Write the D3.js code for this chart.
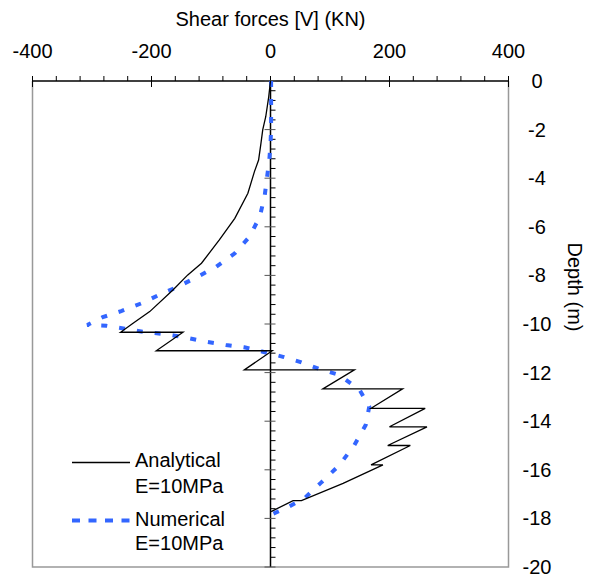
<!DOCTYPE html>
<html><head><meta charset="utf-8">
<script src="https://cdn.jsdelivr.net/npm/d3@7"></script>
<style>body{margin:0;background:#fff}svg{display:block;font-family:"Liberation Sans",Arial,sans-serif}</style>
</head><body>
<svg id="c" width="592" height="577"></svg>
<script>
// Analytical E=10MPa : shear force (kN), depth (m)
const analyticalV = [0,-3,-8,-13,-16,-20,-27,-38,-60,-86,-116,-139,-164,-203,-231,-252,-147,-192,3,-44,141,88,222,169,260,200,263,197,235,169,189,122,52,38,1];
const analyticalD = [0,-0.65,-1.47,-2.0,-2.56,-3.25,-3.73,-4.62,-5.65,-6.54,-7.5,-7.98,-8.6,-9.49,-9.97,-10.34,-10.34,-11.1,-11.1,-11.89,-11.89,-12.67,-12.67,-13.47,-13.47,-14.23,-14.23,-15.0,-15.0,-15.8,-15.8,-16.56,-17.27,-17.27,-17.72];
// Numerical E=10MPa
const numericalV = [1,1,1,0,-2,-6,-10,-18,-35,-60,-91,-122,-156,-187,-217,-251,-282,-308,-276,-245,-215,-181,-161,-142,-108,-75,-44,-13,21,52,82,116,150,166,160,141,116,85,57,26,5];
const numericalD = [0,-1,-2,-2.6,-3.25,-4.0,-4.76,-5.58,-6.4,-7.09,-7.64,-8.05,-8.47,-8.8,-9.15,-9.47,-9.72,-10.04,-10.07,-10.19,-10.32,-10.41,-10.48,-10.56,-10.73,-10.86,-10.96,-11.14,-11.35,-11.58,-11.85,-12.1,-12.72,-13.4,-14.16,-14.98,-15.8,-16.53,-17.17,-17.58,-17.8];
const xTicks = [-400,-200,0,200,400];
const yTicks = [0,-2,-4,-6,-8,-10,-12,-14,-16,-18,-20];
const seriesNames = ["Analytical", "Numerical"];
const legendSub = "E=10MPa";

const svg = d3.select("#c");
const x = d3.scaleLinear().domain([-400,400]).range([32.5,508.5]);
const y = d3.scaleLinear().domain([0,-20]).range([81,567]);
const font = 20;

// frame (gray)
svg.append("path").attr("d",`M${x(-400)},${y(0)}V${y(-20)}H${x(400)}V${y(0)}`)
  .attr("fill","none").attr("stroke","#999").attr("stroke-width",1.5);

// top x axis
const gx = svg.append("g");
gx.append("line").attr("x1",x(-400)).attr("x2",x(400)).attr("y1",y(0)).attr("y2",y(0)).attr("stroke","#000").attr("stroke-width",1.5);
const minorX = d3.range(-400,401,40);
gx.selectAll(".mx").data(minorX).enter().append("line")
  .attr("x1",d=>x(d)).attr("x2",d=>x(d))
  .attr("y1",y(0)-5)
  .attr("y2",d=>xTicks.includes(d)?y(0)+6:y(0))
  .attr("stroke","#000").attr("stroke-width",1);
gx.selectAll(".lx").data(xTicks).enter().append("text")
  .attr("x",d=>x(d)).attr("y",58).attr("text-anchor","middle").attr("font-size",font).text(d=>d);
svg.append("text").attr("x",x(0)).attr("y",26).attr("text-anchor","middle").attr("font-size",font).text("Shear forces [V] (KN)");

// vertical axis at x=0
const gy = svg.append("g");
gy.append("line").attr("x1",x(0)).attr("x2",x(0)).attr("y1",y(0)).attr("y2",y(-20)).attr("stroke","#000").attr("stroke-width",1.5);
const minorY = d3.range(0,-20.01,-0.4).map(v=>+v.toFixed(1));
gy.selectAll(".my").data(minorY).enter().append("line")
  .attr("x1",d=>yTicks.includes(d)?x(0)-6:x(0)).attr("x2",x(0)+5)
  .attr("y1",d=>y(d)).attr("y2",d=>y(d))
  .attr("stroke",d=>yTicks.includes(d)?"#555":"#000").attr("stroke-width",1);
svg.selectAll(".ly").data(yTicks).enter().append("text")
  .attr("x",537).attr("y",d=>y(d)).attr("dy","0.35em").attr("text-anchor","middle").attr("font-size",font).text(d=>d);
svg.append("text").attr("transform","translate(568,287) rotate(90)").attr("text-anchor","middle").attr("font-size",font).text("Depth (m)");

// series
const line = d3.line().x(d=>x(d[0])).y(d=>y(d[1]));
const aPts = analyticalV.map((v,i)=>[v,analyticalD[i]]);
const nPts = numericalV.map((v,i)=>[v,numericalD[i]]);
svg.append("path").attr("d",line(nPts)).attr("fill","none").attr("stroke","#3366ff").attr("stroke-width",4).attr("stroke-dasharray","6,12");
svg.append("path").attr("d",line(aPts)).attr("fill","none").attr("stroke","#000").attr("stroke-width",1.3);

// legend
const lg = svg.append("g");
lg.append("line").attr("x1",72).attr("x2",130).attr("y1",462.5).attr("y2",462.5).attr("stroke","#000").attr("stroke-width",1.3);
lg.append("line").attr("x1",72).attr("x2",130).attr("y1",520.5).attr("y2",520.5).attr("stroke","#3366ff").attr("stroke-width",4).attr("stroke-dasharray","8,8.5");
[[seriesNames[0],467],[legendSub,493],[seriesNames[1],526],[legendSub,550]].forEach(([t,yy])=>{
  lg.append("text").attr("x",135).attr("y",yy).attr("font-size",font).text(t);
});
</script>
</body></html>
